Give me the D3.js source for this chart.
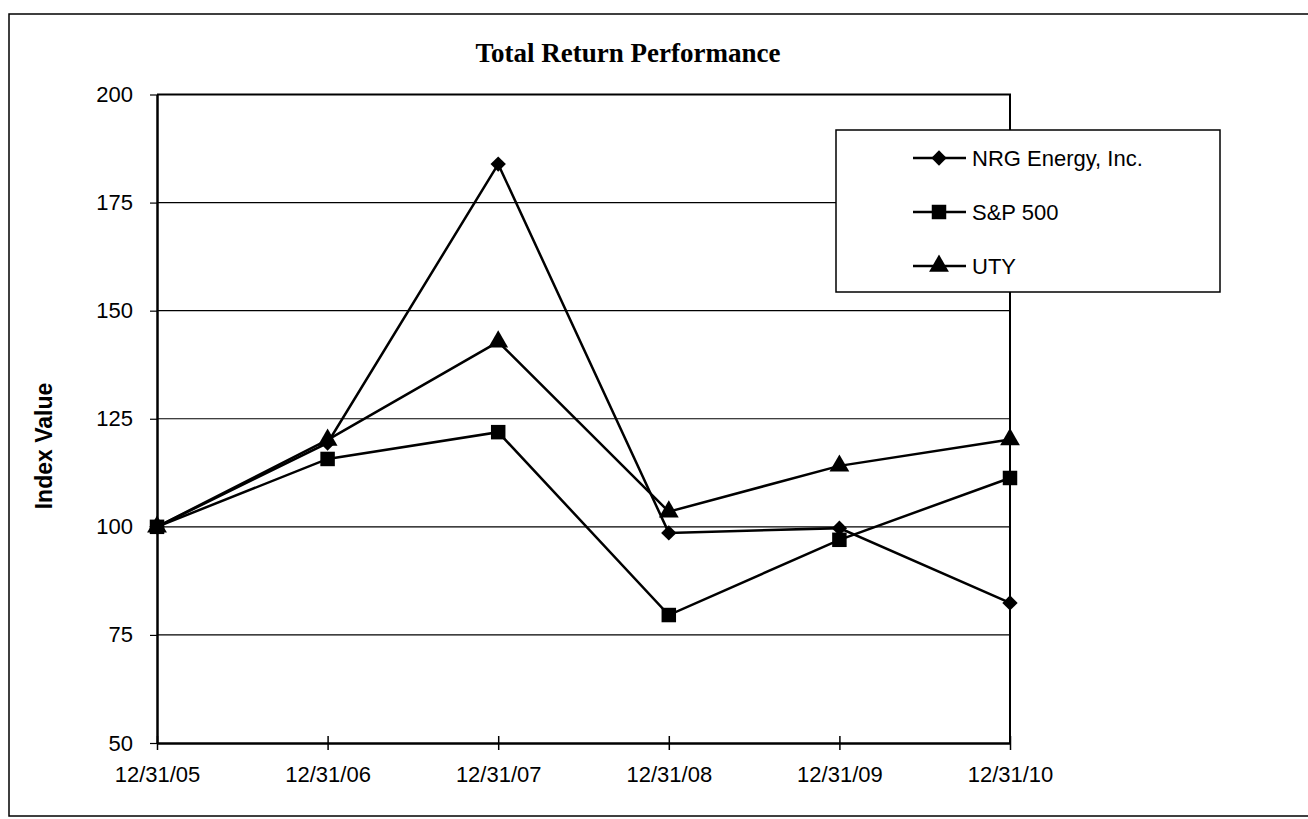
<!DOCTYPE html>
<html>
<head>
<meta charset="utf-8">
<script src="https://cdn.jsdelivr.net/npm/d3@7"></script>
<style>
  body { margin: 0; background: #fff; }
  svg text { fill: #000; }
</style>
</head>
<body>
<div id="container"></div>
<script>
/* DATA */
const dates = ["12/31/05", "12/31/06", "12/31/07", "12/31/08", "12/31/09", "12/31/10"];
const nrg = [100, 119.4, 183.9, 98.6, 99.7, 82.4];
const sp500 = [100, 115.7, 121.9, 79.6, 97.0, 111.3];
const uty = [100, 120.1, 142.8, 103.5, 114.1, 120.2];
const yTicks = [50, 75, 100, 125, 150, 175, 200];
const seriesNames = ["NRG Energy, Inc.", "S&P 500", "UTY"];

/* CONSTANTS */
const width = 1308, height = 819;
const plot = { left: 157, right: 1010, top: 94.5, bottom: 743 };

const svg = d3.select("#container")
  .append("svg")
  .attr("width", width)
  .attr("height", height)

// outer frame
svg.append("rect")
  .attr("x", 9).attr("y", 14)
  .attr("width", 1320).attr("height", 802)
  .attr("fill", "none").attr("stroke", "#000").attr("stroke-width", 1.5)

// scales
const x = d3.scalePoint().domain(dates).range([plot.left, plot.right])
const y = d3.scaleLinear().domain([50, 200]).range([plot.bottom, plot.top])

// gridlines
svg.selectAll("line.grid")
  .data(yTicks.filter(d => d > 50 && d < 200))
  .join("line")
  .attr("class", "grid")
  .attr("x1", plot.left).attr("x2", plot.right)
  .attr("y1", d => y(d)).attr("y2", d => y(d))
  .attr("stroke", "#000").attr("stroke-width", 1.2)

// plot border top + right
svg.append("path")
  .attr("d", `M${plot.left},${y(200)}H${plot.right}V${plot.bottom}`)
  .attr("fill", "none").attr("stroke", "#000").attr("stroke-width", 2)

// y axis
const yAxis = svg.append("g")
  .attr("transform", `translate(${plot.left},0)`)
  .call(d3.axisLeft(y).tickValues(yTicks).tickSize(7).tickPadding(17).tickSizeOuter(0))
yAxis.select(".domain").attr("stroke-width", 2.5)
yAxis.selectAll(".tick line").attr("stroke-width", 1.2)
yAxis.selectAll("text")
  .attr("font-family", "Liberation Sans, Arial, sans-serif")
  .attr("font-size", 22)

// x axis
const xAxis = svg.append("g")
  .attr("transform", `translate(0,${plot.bottom})`)
  .call(d3.axisBottom(x).tickSize(7).tickPadding(16).tickSizeOuter(0))
xAxis.select(".domain").attr("stroke-width", 2.5)
xAxis.selectAll(".tick line").attr("y1", -7).attr("stroke-width", 1.5)
xAxis.selectAll("text")
  .attr("font-family", "Liberation Sans, Arial, sans-serif")
  .attr("font-size", 22)

// title
svg.append("text")
  .attr("x", 628).attr("y", 62)
  .attr("text-anchor", "middle")
  .attr("font-family", "Liberation Serif, Times New Roman, serif")
  .attr("font-weight", "bold")
  .attr("font-size", 27)
  .text("Total Return Performance")

// y label
svg.append("text")
  .attr("transform", "translate(52,446) rotate(-90)")
  .attr("text-anchor", "middle")
  .attr("font-family", "Liberation Sans, Arial, sans-serif")
  .attr("font-weight", "bold")
  .attr("font-size", 23)
  .text("Index Value")

// markers
const symbols = [
  d3.symbol().type(d3.symbolDiamond2).size(150),
  d3.symbol().type(d3.symbolSquare).size(210),
  d3.symbol().type(d3.symbolTriangle).size(170)
]

const series = [nrg, sp500, uty]
const lineGen = d3.line().x((d, i) => x(dates[i])).y(d => y(d))

series.forEach((vals, s) => {
  svg.append("path")
    .attr("d", lineGen(vals))
    .attr("fill", "none").attr("stroke", "#000").attr("stroke-width", 2.5)
  svg.selectAll(null)
    .data(vals)
    .join("path")
    .attr("d", symbols[s])
    .attr("transform", (d, i) => `translate(${x(dates[i])},${y(d)})`)
    .attr("fill", "#000")
})

// legend
const legend = svg.append("g")
legend.append("rect")
  .attr("x", 836).attr("y", 130).attr("width", 384).attr("height", 162)
  .attr("fill", "#fff").attr("stroke", "#000").attr("stroke-width", 1.5)

const ly = d3.scalePoint().domain(seriesNames).range([158, 266])
seriesNames.forEach((name, s) => {
  const yy = ly(name)
  legend.append("line")
    .attr("x1", 913).attr("x2", 966).attr("y1", yy).attr("y2", yy)
    .attr("stroke", "#000").attr("stroke-width", 2.5)
  legend.append("path")
    .attr("d", symbols[s])
    .attr("transform", `translate(939,${yy})`)
    .attr("fill", "#000")
  legend.append("text")
    .attr("x", 972).attr("y", yy)
    .attr("dy", "0.36em")
    .attr("font-family", "Liberation Sans, Arial, sans-serif")
    .attr("font-size", 22)
    .text(name)
})
</script>
</body>
</html>
